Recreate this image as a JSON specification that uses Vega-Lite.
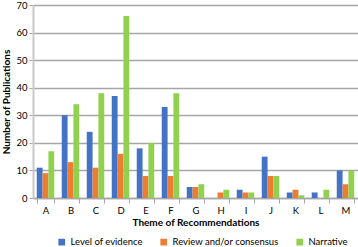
{
  "$schema": "https://vega.github.io/schema/vega-lite/v6.json",
  "width": 325,
  "height": 193,
  "autosize": {"type": "none"},
  "padding": {"left": 33, "top": 5, "right": 0, "bottom": 49},
  "background": "white",
  "config": {
    "font": "Lato",
    "view": {"stroke": null}
  },
  "data": {
    "values": [
      {"theme": "A", "type": "Level of evidence", "n": 11},
      {"theme": "A", "type": "Review and/or consensus", "n": 9},
      {"theme": "A", "type": "Narrative", "n": 17},
      {"theme": "B", "type": "Level of evidence", "n": 30},
      {"theme": "B", "type": "Review and/or consensus", "n": 13},
      {"theme": "B", "type": "Narrative", "n": 34},
      {"theme": "C", "type": "Level of evidence", "n": 24},
      {"theme": "C", "type": "Review and/or consensus", "n": 11},
      {"theme": "C", "type": "Narrative", "n": 38},
      {"theme": "D", "type": "Level of evidence", "n": 37},
      {"theme": "D", "type": "Review and/or consensus", "n": 16},
      {"theme": "D", "type": "Narrative", "n": 66},
      {"theme": "E", "type": "Level of evidence", "n": 18},
      {"theme": "E", "type": "Review and/or consensus", "n": 8},
      {"theme": "E", "type": "Narrative", "n": 20},
      {"theme": "F", "type": "Level of evidence", "n": 33},
      {"theme": "F", "type": "Review and/or consensus", "n": 8},
      {"theme": "F", "type": "Narrative", "n": 38},
      {"theme": "G", "type": "Level of evidence", "n": 4},
      {"theme": "G", "type": "Review and/or consensus", "n": 4},
      {"theme": "G", "type": "Narrative", "n": 5},
      {"theme": "H", "type": "Level of evidence", "n": 0},
      {"theme": "H", "type": "Review and/or consensus", "n": 2},
      {"theme": "H", "type": "Narrative", "n": 3},
      {"theme": "I", "type": "Level of evidence", "n": 3},
      {"theme": "I", "type": "Review and/or consensus", "n": 2},
      {"theme": "I", "type": "Narrative", "n": 2},
      {"theme": "J", "type": "Level of evidence", "n": 15},
      {"theme": "J", "type": "Review and/or consensus", "n": 8},
      {"theme": "J", "type": "Narrative", "n": 8},
      {"theme": "K", "type": "Level of evidence", "n": 2},
      {"theme": "K", "type": "Review and/or consensus", "n": 3},
      {"theme": "K", "type": "Narrative", "n": 1},
      {"theme": "L", "type": "Level of evidence", "n": 2},
      {"theme": "L", "type": "Review and/or consensus", "n": 0},
      {"theme": "L", "type": "Narrative", "n": 3},
      {"theme": "M", "type": "Level of evidence", "n": 10},
      {"theme": "M", "type": "Review and/or consensus", "n": 5},
      {"theme": "M", "type": "Narrative", "n": 10}
    ]
  },
  "mark": {"type": "bar"},
  "encoding": {
    "x": {
      "field": "theme",
      "type": "nominal",
      "scale": {"paddingInner": 0.3, "paddingOuter": 0.15},
      "axis": {
        "title": "Theme of Recommendations",
        "titleFontSize": 10,
        "titleFontWeight": "bold",
        "titleColor": "#000",
        "titlePadding": 3,
        "labelAngle": 0,
        "labelFontSize": 9.5,
        "labelColor": "#000",
        "labelPadding": 2,
        "tickBand": "extent",
        "tickColor": "#a6a6a6",
        "tickSize": 5,
        "domainColor": "#a6a6a6",
        "domainWidth": 1.5,
        "grid": false
      }
    },
    "xOffset": {
      "field": "type",
      "sort": ["Level of evidence", "Review and/or consensus", "Narrative"],
      "scale": {"paddingInner": 0}
    },
    "y": {
      "field": "n",
      "type": "quantitative",
      "scale": {"domain": [0, 70]},
      "axis": {
        "title": "Number of Publications",
        "titleFontSize": 10,
        "titleFontWeight": "bold",
        "titleColor": "#000",
        "titlePadding": 4,
        "values": [0, 10, 20, 30, 40, 50, 60, 70],
        "labelFontSize": 9.5,
        "labelColor": "#000",
        "labelPadding": 2,
        "gridColor": "#a6a6a6",
        "gridWidth": 1.5,
        "domainColor": "#c8c8c8",
        "domainWidth": 2,
        "tickColor": "#a6a6a6",
        "tickSize": 4
      }
    },
    "color": {
      "field": "type",
      "type": "nominal",
      "sort": ["Level of evidence", "Review and/or consensus", "Narrative"],
      "scale": {
        "domain": ["Level of evidence", "Review and/or consensus", "Narrative"],
        "range": ["#4472C4", "#ED7D31", "#92D050"]
      },
      "legend": {
        "title": null,
        "orient": "none",
        "legendX": 24,
        "legendY": 232,
        "direction": "horizontal",
        "symbolType": "square",
        "symbolSize": 45,
        "labelFontSize": 9.5,
        "labelColor": "#000",
        "columnPadding": 16,
        "padding": 0
      }
    }
  }
}
